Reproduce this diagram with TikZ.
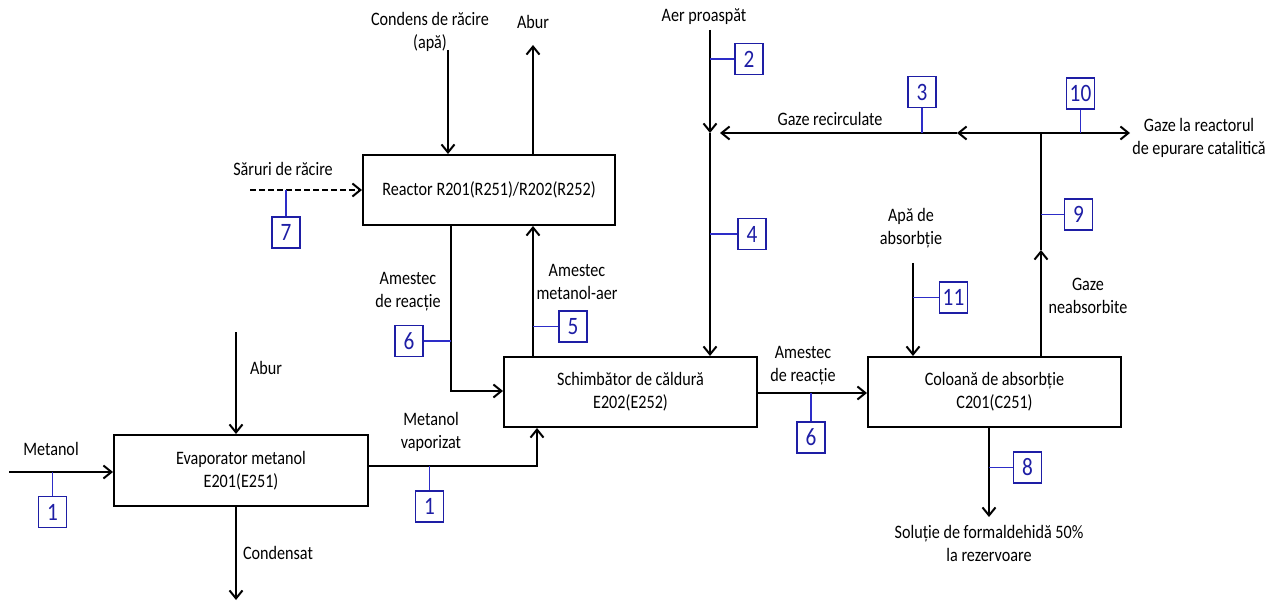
\documentclass[tikz,border=0pt]{standalone}
\usepackage{fontspec}
\setmainfont{Carlito}[FakeStretch=0.85]
\usetikzlibrary{arrows.meta,calc}
\definecolor{tagblue}{RGB}{30,30,165}
\definecolor{stemblue}{RGB}{45,45,200}
\begin{document}
\begin{tikzpicture}[x=1pt,y=-1pt,
  every node/.style={font=\fontsize{19}{23}\selectfont, inner sep=0pt},
  lbl/.style={align=center},
  pipe/.style={line width=2pt},
  flow/.style={line width=2pt, -{Straight Barb[length=8pt,width=13pt]}},
  dflow/.style={flow, dashed, dash pattern=on 6pt off 3pt},
  unitbox/.style={draw, line width=2pt, align=center, minimum height=70pt},
  tag/.style={draw=tagblue, text=tagblue, line width=1.7pt, minimum width=28pt, minimum height=31pt, font=\fontsize{25}{26}\selectfont},
  stem/.style={draw=stemblue, line width=1.6pt}]
\useasboundingbox (0,0) rectangle (1284,601);

% units
\node[unitbox, minimum width=254pt, minimum height=71pt] (evap) at (241,470.5) {Evaporator metanol\\E201(E251)};
\node[unitbox, minimum width=253pt] (schimb) at (630.5,392) {Schimbător de căldură\\E202(E252)};
\node[unitbox, minimum width=252pt] (reactor) at (489,190) {Reactor R201(R251)/R202(R252)};
\node[unitbox, minimum width=253pt] (col) at (994.5,392) {Coloană de absorbție\\C201(C251)};

% free ends and junctions
\coordinate (metin) at (9,472);
\coordinate (aburin) at (236,332);
\coordinate (condout) at (236,600);
\coordinate (mvbend) at (537,466);
\coordinate (robend) at (451,391);
\coordinate (condin) at (448,50);
\coordinate (aburout) at (533,45);
\coordinate (sarin) at (250,190);
\coordinate (aerin) at (710,30);
\coordinate (aerj) at (710,133);
\coordinate (gj) at (1041,133);
\coordinate (gmid) at (1041,250);
\coordinate (gleft) at (957,133);
\coordinate (gend) at (720,133);
\coordinate (gout) at (1130,133);
\coordinate (apain) at (913,263);
\coordinate (solout) at (989,517);

% connectors
\draw[flow] (metin) -- (metin -| evap.west);
\draw[flow] (aburin) -- (aburin |- evap.north);
\draw[flow] (aburin |- evap.south) -- (condout);
\draw[flow] (evap.east |- mvbend) -- (mvbend) -- (mvbend |- schimb.south);
\draw[flow] (robend |- reactor.south) -- (robend) -- (robend -| schimb.west);
\draw[flow] (aburout |- schimb.north) -- (aburout |- reactor.south);
\draw[flow] (condin) -- (condin |- reactor.north);
\draw[flow] (aburout |- reactor.north) -- (aburout);
\draw[dflow] (sarin) -- (sarin -| reactor.west);
\draw[flow] (aerin) -- (aerj);
\draw[flow] (aerj) -- (aerj |- schimb.north);
\draw[flow] (gj |- col.north) -- (gmid);
\draw[pipe] (gmid) -- (gj);
\draw[flow] (gj) -- (gout);
\draw[flow] (gj) -- (gleft);
\draw[flow] (gleft) -- (gend);
\draw[flow] (schimb.east |- 0,393) -- (col.west |- 0,393);
\draw[flow] (apain) -- (apain |- col.north);
\draw[flow] (solout |- col.south) -- (solout);

% stream tags
\node[tag] (t1a) at (52.5,512) {1};
\node[tag] (t1b) at (429.5,506.5) {1};
\node[tag] (t6a) at (409,341) {6};
\node[tag] (t5) at (573,326.5) {5};
\node[tag] (t7) at (286,232.5) {7};
\node[tag] (t2) at (749,59) {2};
\node[tag] (t3) at (922,92) {3};
\node[tag] (t10) at (1080.5,93.5) {10};
\node[tag] (t4) at (752,234) {4};
\node[tag] (t11) at (953.5,297.5) {11};
\node[tag] (t9) at (1078.5,214.5) {9};
\node[tag] (t6b) at (811,437.5) {6};
\node[tag] (t8) at (1027.5,467.5) {8};

\draw[stem] (t1a.north |- metin) -- (t1a.north);
\draw[stem] (t1b.north |- mvbend) -- (t1b.north);
\draw[stem] (robend |- t6a.east) -- (t6a.east);
\draw[stem] (aburout |- t5.west) -- (t5.west);
\draw[stem] (t7.north |- sarin) -- (t7.north);
\draw[stem] (aerj |- t2.west) -- (t2.west);
\draw[stem] (t3.south |- gj) -- (t3.south);
\draw[stem] (t10.south |- gj) -- (t10.south);
\draw[stem] (aerj |- t4.west) -- (t4.west);
\draw[stem] (apain |- t11.west) -- (t11.west);
\draw[stem] (gj |- t9.west) -- (t9.west);
\draw[stem] (t6b.north |- 0,393) -- (t6b.north);
\draw[stem] (solout |- t8.west) -- (t8.west);

% labels
\node[lbl] (lmet) at (51,449) {Metanol};
\node[lbl] (labur1) at (266,368) {Abur};
\node[lbl] (lcond) at (278,553) {Condensat};
\node[lbl] (lmv) at (431,431.5) {Metanol\\vaporizat};
\node[lbl] (lar1) at (408,291.5) {Amestec\\de reacție};
\node[lbl] (lma) at (577,282) {Amestec\\metanol-aer};
\node[lbl] (lsar) at (283,169) {Săruri de răcire};
\node[lbl] (lcdr) at (430,31.5) {Condens de răcire\\(apă)};
\node[lbl] (labur2) at (533,22) {Abur};
\node[lbl] (laer) at (704,17) {Aer proaspăt};
\node[lbl] (lgr) at (830,119) {Gaze recirculate};
\node[lbl] (lgre) at (1199,137.5) {Gaze la reactorul\\de epurare catalitică};
\node[lbl] (lapa) at (911,228.5) {Apă de\\absorbție};
\node[lbl] (lgn) at (1088,296) {Gaze\\neabsorbite};
\node[lbl] (lar2) at (803,366) {Amestec\\de reacție};
\node[lbl] (lsol) at (989,543.5) {Soluție de formaldehidă 50\%\\la rezervoare};
\end{tikzpicture}
\end{document}
